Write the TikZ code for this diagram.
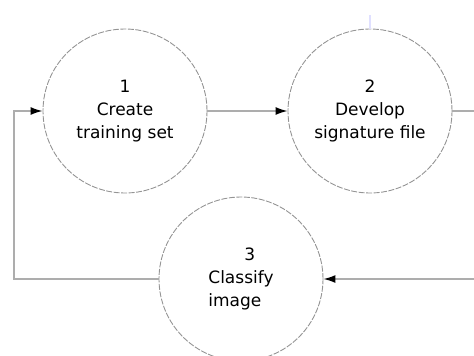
\documentclass[tikz,border=0pt]{standalone}
\usepackage{fontspec}
\setmainfont{DejaVu Sans}
\usetikzlibrary{arrows.meta, positioning}

\begin{document}
\begin{tikzpicture}[x=1pt, y=-1pt,
    step circle/.style={circle, draw=black!42, dash pattern=on 6pt off 1.5pt, line width=0.9pt,
        minimum size=164pt, inner sep=0pt, align=center,
        font=\fontsize{17}{22.7}\selectfont},
    flow/.style={draw=black!32, line width=1.4pt},
    tip/.style={-{Latex[black, length=12pt, width=8pt]}},
]
\useasboundingbox (0,0) rectangle (474,356);

\node[step circle] (create) at (125,111) {1\\Create\\training set};
\node[step circle] (develop) at (370,111) {2\\Develop\\signature file};
\node[step circle, align=left] (classify) at (241,279) {\hspace*{36pt}3\\Classify\\image};

% ends running off the picture
\coordinate (devout) at (474,111);
\coordinate (clsin) at (474,279);
\coordinate (loopa) at (14,279);
\coordinate (loopb) at (14,111);
\coordinate (topstub) at (370,15);

\draw[flow, tip] (create) -- (develop);
\draw[flow] (develop) -- (devout);
\draw[flow, tip] (clsin) -- (classify);
\draw[flow, tip] (classify) -- (loopa) -- (loopb) -- (create);
\draw[blue!12, line width=1.5pt] (topstub) -- (develop);
\end{tikzpicture}
\end{document}
